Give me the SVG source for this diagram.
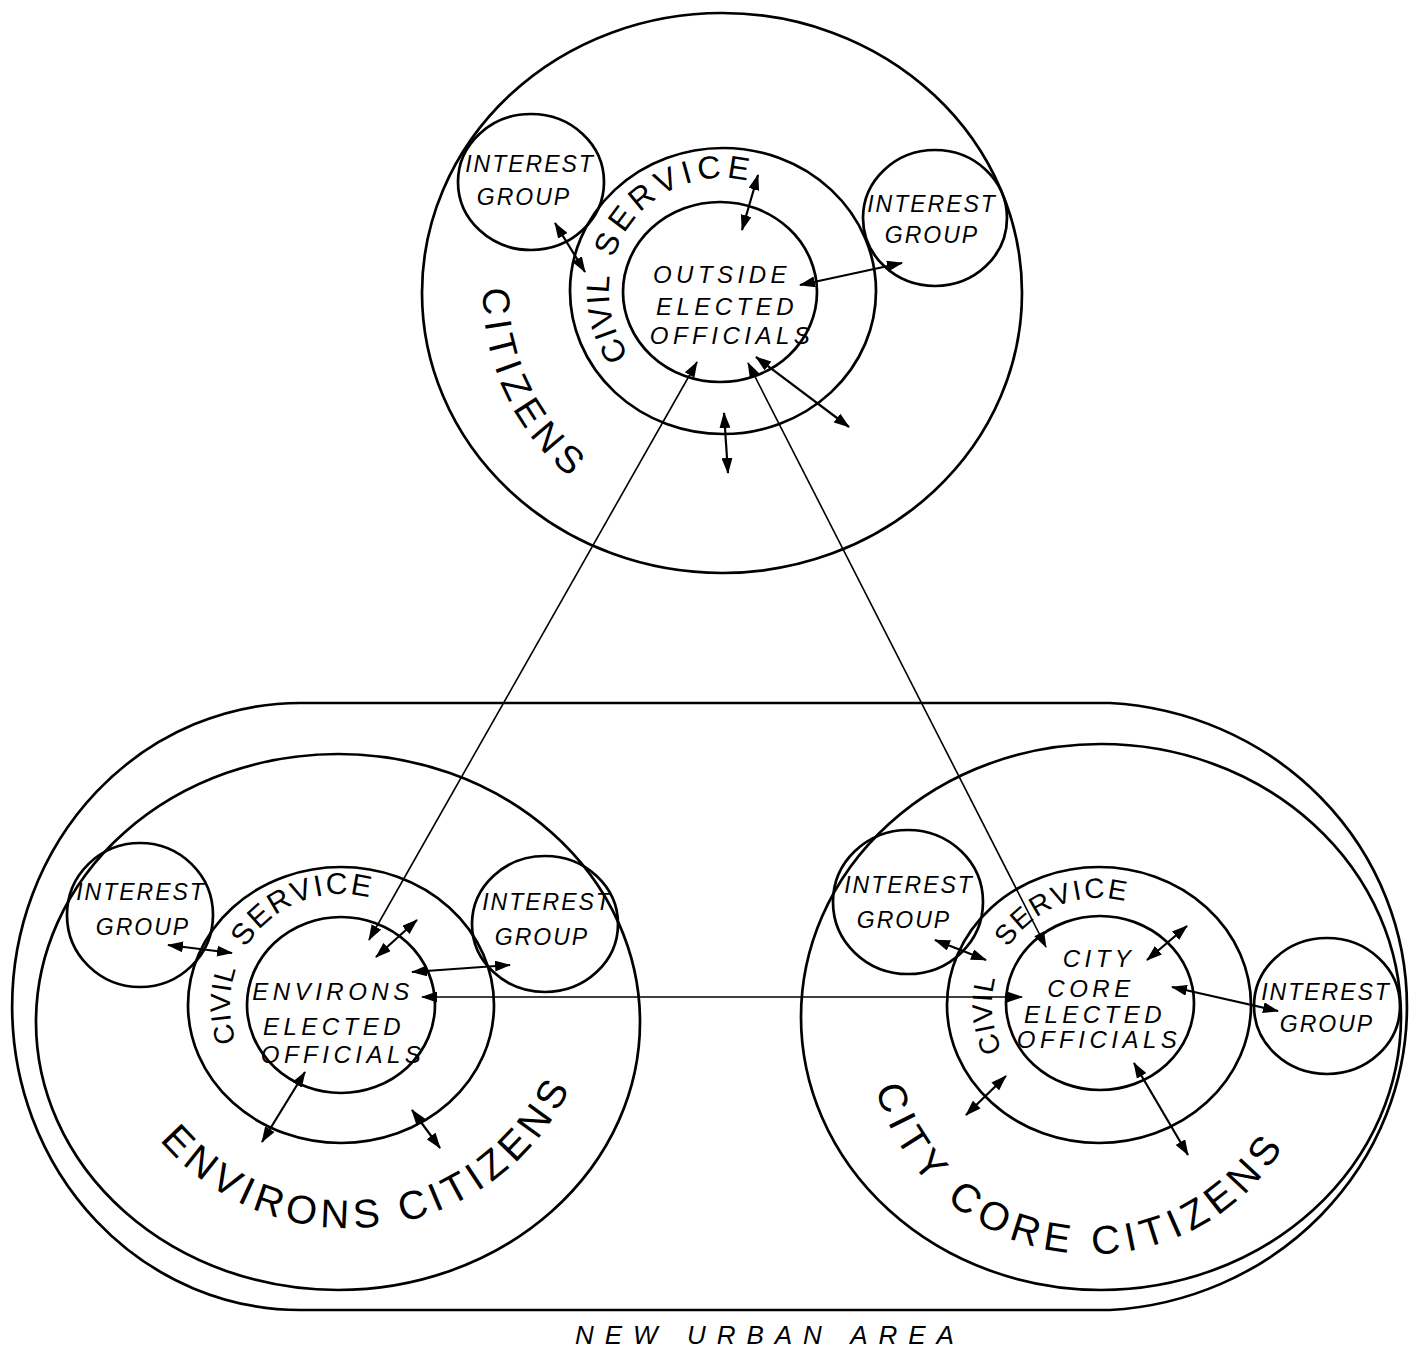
<svg xmlns="http://www.w3.org/2000/svg" width="1422" height="1348" viewBox="0 0 1422 1348">
<style>
.ring{fill:none;stroke:#000;stroke-width:2.7}
.conn{fill:none;stroke:#000;stroke-width:2.2}
.long{fill:none;stroke:#000;stroke-width:1.6}
text{font-family:"Liberation Sans",Arial,sans-serif;fill:#000}
.ig{font-size:23px;font-style:italic;letter-spacing:2px;text-anchor:middle}
.off{font-size:24px;font-style:italic;letter-spacing:4.5px;text-anchor:middle}
.cs{font-size:30px;letter-spacing:3px}
.cit{font-size:38px;letter-spacing:6px}
.nua{font-size:26px;font-style:italic;letter-spacing:11px}
</style>
<defs>
<marker id="ah" viewBox="0 0 16 11" refX="15" refY="5.5" markerWidth="16" markerHeight="11" markerUnits="userSpaceOnUse" orient="auto-start-reverse"><path d="M0,0 L16,5.5 L0,11 Z" fill="#000"/></marker>
<path id="csTop" d="M635.4,363.6 A113,113 0 0 1 794.6,204.4"/>
<path id="csLeft" d="M240.4,1051.9 A111,111 0 0 1 419.5,926.5"/>
<path id="csRight" d="M1006.3,1058.5 A107,107 0 0 1 1167.8,923"/>
<path id="citTop" d="M483.6,276.3 A239,239 0 0 0 680.5,528.4"/>
<path id="citLeft" d="M151.5,1130 A246,246 0 0 0 590.3,1024.7"/>
<path id="citRight" d="M872.9,1076.6 A224,224 0 0 0 1308.4,1088"/>
</defs>
<rect width="1422" height="1348" fill="#fff"/>

<g id="outside-citizens">
<ellipse class="ring" cx="722" cy="293" rx="300" ry="280"/>
<text class="cit" font-size="36"><textPath href="#citTop" startOffset="12">CITIZENS</textPath></text>
</g>
<g id="outside-ig-left">
<ellipse class="ring" cx="531" cy="182" rx="73" ry="68"/>
<text class="ig" x="530" y="172">INTEREST</text>
<text class="ig" x="524" y="205">GROUP</text>
</g>
<g id="outside-ig-right">
<ellipse class="ring" cx="935" cy="218" rx="72" ry="68"/>
<text class="ig" x="932" y="212">INTEREST</text>
<text class="ig" x="932" y="243">GROUP</text>
</g>
<g id="outside-civil-service">
<ellipse class="ring" cx="723" cy="291" rx="153" ry="143"/>
<text class="cs" style="font-size:32px;letter-spacing:1px"><textPath href="#csTop" startOffset="10">CIVIL</textPath></text>
<text class="cs" style="font-size:32px;letter-spacing:5px"><textPath href="#csTop" startOffset="112">SERVICE</textPath></text>
</g>
<g id="outside-officials">
<ellipse class="ring" cx="720" cy="292" rx="97" ry="90"/>
<text class="off" x="722" y="283">OUTSIDE</text>
<text class="off" x="727" y="315">ELECTED</text>
<text class="off" x="732" y="344">OFFICIALS</text>
</g>

<g id="new-urban-area">
<path class="ring" d="M300,703 L1110,703 A315,304 0 0 1 1110,1310 L300,1310 A288,303.5 0 0 1 300,703 Z"/>
<text class="nua" x="575" y="1344">NEW URBAN AREA</text>
</g>

<g id="environs-citizens">
<ellipse class="ring" cx="338" cy="1022" rx="302" ry="268"/>
<text class="cit" style="font-size:40px;letter-spacing:5.5px"><textPath href="#citLeft" startOffset="13">ENVIRONS CITIZENS</textPath></text>
</g>
<g id="environs-ig-left">
<ellipse class="ring" cx="140" cy="915" rx="73" ry="72"/>
<text class="ig" x="141" y="900">INTEREST</text>
<text class="ig" x="143" y="935">GROUP</text>
</g>
<g id="environs-ig-right">
<ellipse class="ring" cx="545" cy="924" rx="73" ry="68"/>
<text class="ig" x="547" y="910">INTEREST</text>
<text class="ig" x="542" y="945">GROUP</text>
</g>
<g id="environs-civil-service">
<ellipse class="ring" cx="341" cy="1005" rx="153" ry="138"/>
<text class="cs" style="font-size:28px;letter-spacing:1px"><textPath href="#csLeft" startOffset="11">CIVIL</textPath></text>
<text class="cs" style="letter-spacing:2px"><textPath href="#csLeft" startOffset="108">SERVICE</textPath></text>
</g>
<g id="environs-officials">
<ellipse class="ring" cx="341" cy="1005" rx="94" ry="88"/>
<text class="off" x="333" y="1000">ENVIRONS</text>
<text class="off" x="334" y="1035">ELECTED</text>
<text class="off" x="343" y="1063">OFFICIALS</text>
</g>

<g id="citycore-citizens">
<ellipse class="ring" cx="1101" cy="1017" rx="300" ry="273"/>
<text class="cit" style="font-size:40px;letter-spacing:6.5px"><textPath href="#citRight" startOffset="12">CITY CORE CITIZENS</textPath></text>
</g>
<g id="citycore-ig-left">
<ellipse class="ring" cx="908" cy="902" rx="75" ry="72"/>
<text class="ig" x="909" y="893">INTEREST</text>
<text class="ig" x="904" y="928">GROUP</text>
</g>
<g id="citycore-ig-right">
<ellipse class="ring" cx="1327" cy="1006" rx="73" ry="68"/>
<text class="ig" x="1326" y="1000">INTEREST</text>
<text class="ig" x="1327" y="1032">GROUP</text>
</g>
<g id="citycore-civil-service">
<ellipse class="ring" cx="1099" cy="1005" rx="152" ry="138"/>
<text class="cs" style="font-size:28px;letter-spacing:1px"><textPath href="#csRight" startOffset="9">CIVIL</textPath></text>
<text class="cs" style="font-size:28px;letter-spacing:2px"><textPath href="#csRight" startOffset="116">SERVICE</textPath></text>
</g>
<g id="citycore-officials">
<ellipse class="ring" cx="1100" cy="1003" rx="94" ry="87"/>
<text class="off" x="1099" y="967">CITY</text>
<text class="off" x="1091" y="997">CORE</text>
<text class="off" x="1095" y="1023">ELECTED</text>
<text class="off" x="1099" y="1048">OFFICIALS</text>
</g>

<g id="connectors" marker-start="url(#ah)" marker-end="url(#ah)">
<line class="conn" x1="555" y1="223" x2="585" y2="272"/>
<line class="conn" x1="758" y1="175" x2="742" y2="230"/>
<line class="conn" x1="902" y1="263" x2="800" y2="285"/>
<line class="conn" x1="724" y1="413" x2="728" y2="473"/>
<line class="conn" x1="756" y1="357" x2="849" y2="427"/>
<line class="long" x1="697" y1="362" x2="369" y2="940"/>
<line class="long" x1="748" y1="363" x2="1046" y2="947"/>
<line class="long" x1="422" y1="997" x2="1022" y2="997"/>
<line class="conn" x1="168" y1="945" x2="232" y2="953"/>
<line class="conn" x1="417" y1="920" x2="376" y2="957"/>
<line class="conn" x1="510" y1="965" x2="412" y2="972"/>
<line class="conn" x1="305" y1="1072" x2="262" y2="1142"/>
<line class="conn" x1="412" y1="1110" x2="440" y2="1148"/>
<line class="conn" x1="935" y1="940" x2="986" y2="960"/>
<line class="conn" x1="1147" y1="960" x2="1187" y2="926"/>
<line class="conn" x1="1172" y1="987" x2="1278" y2="1011"/>
<line class="conn" x1="1006" y1="1076" x2="966" y2="1115"/>
<line class="conn" x1="1134" y1="1063" x2="1188" y2="1155"/>
</g>
</svg>
